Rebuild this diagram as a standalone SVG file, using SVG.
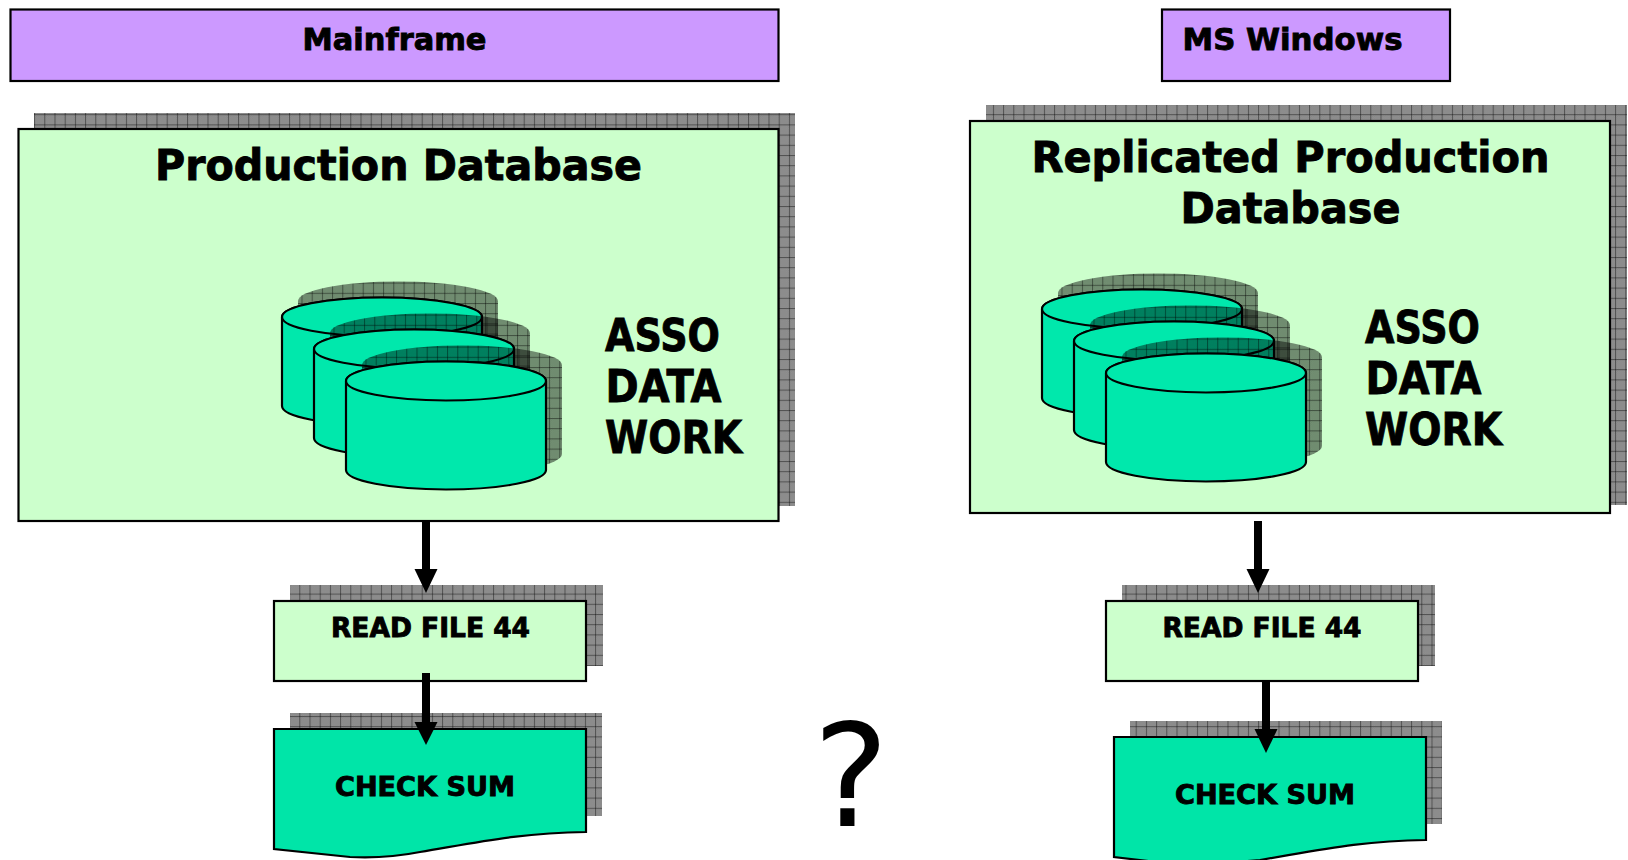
<svg xmlns="http://www.w3.org/2000/svg" width="1628" height="860" viewBox="0 0 1628 860">
<style>
text{font-family:"DejaVu Sans","Liberation Sans",sans-serif;font-weight:bold;fill:#000;stroke:#000;stroke-width:.9}
.box{stroke:#000;stroke-width:2.2}
.hdr{fill:#CC99FF}
.lt{fill:#CCFFCC}
.tl{fill:#00E5A8}
.sh{fill:url(#grid);stroke:none}
.cyl{fill:#00E8AC;stroke:#000;stroke-width:2.2}
.cap{fill:#00E8AC;stroke:#000;stroke-width:2.2}
.conn{stroke:#000;stroke-width:8;fill:none}
.head{fill:#000}
</style>
<defs>
<pattern id="fine" width="2" height="2" patternUnits="userSpaceOnUse">
<rect width="2" height="2" fill="#000" fill-opacity=".42"/>
<rect width="1" height="1" fill="#000" fill-opacity=".1"/>
<rect x="1" y="1" width="1" height="1" fill="#000" fill-opacity=".1"/>
</pattern>
<pattern id="grid" x="3.5" y="2" width="10.2" height="10.2" patternUnits="userSpaceOnUse">
<rect width="10.2" height="10.2" fill="url(#fine)"/>
<rect width="1" height="10.2" fill="#000" fill-opacity=".42"/>
<rect y="0" width="10.2" height="1" fill="#000" fill-opacity=".42"/>
</pattern>
<path id="cs" d="M0 0A100 19.5 0 0 1 200 0V89A100 19.5 0 0 1 0 89Z"/>
<g id="stack">
<use href="#cs" x="298" y="301" class="sh"/>
<use href="#cs" x="282" y="317" class="cyl"/>
<ellipse cx="382" cy="317" rx="100" ry="19.5" class="cap"/>
<use href="#cs" x="330" y="333" class="sh"/>
<use href="#cs" x="314" y="349" class="cyl"/>
<ellipse cx="414" cy="349" rx="100" ry="19.5" class="cap"/>
<use href="#cs" x="362" y="365" class="sh"/>
<use href="#cs" x="346" y="381" class="cyl"/>
<ellipse cx="446" cy="381" rx="100" ry="19.5" class="cap"/>
</g>
</defs>
<rect width="1628" height="860" fill="#fff"/>

<g id="header-mainframe">
<rect x="10.5" y="9.5" width="768" height="71.5" class="box hdr"/>
<text x="302.5" y="50" font-size="30" textLength="184" lengthAdjust="spacingAndGlyphs">Mainframe</text>
</g>
<g id="header-windows">
<rect x="1162" y="9.5" width="288" height="71.5" class="box hdr"/>
<text x="1182.5" y="50" font-size="30" textLength="220" lengthAdjust="spacingAndGlyphs">MS Windows</text>
</g>

<g id="production-db">
<rect x="34" y="113" width="761" height="393" class="sh"/>
<rect x="18.5" y="129" width="760" height="392" class="box lt"/>
<text x="155" y="180" font-size="42" textLength="487" lengthAdjust="spacingAndGlyphs">Production Database</text>
<use href="#stack"/>
<text x="605" y="351" font-size="44" textLength="115" lengthAdjust="spacingAndGlyphs">ASSO</text>
<text x="605.5" y="402" font-size="44" textLength="116" lengthAdjust="spacingAndGlyphs">DATA</text>
<text x="605" y="453" font-size="44" textLength="137" lengthAdjust="spacingAndGlyphs">WORK</text>
</g>

<g id="replicated-db">
<rect x="986" y="105" width="641" height="400" class="sh"/>
<rect x="970" y="121" width="640" height="392" class="box lt"/>
<text x="1031.5" y="172" font-size="42" textLength="518" lengthAdjust="spacingAndGlyphs">Replicated Production</text>
<text x="1180.5" y="223" font-size="42" textLength="220" lengthAdjust="spacingAndGlyphs">Database</text>
<use href="#stack" transform="translate(760,-8)"/>
<text x="1365" y="343" font-size="44" textLength="115" lengthAdjust="spacingAndGlyphs">ASSO</text>
<text x="1365.5" y="394" font-size="44" textLength="116" lengthAdjust="spacingAndGlyphs">DATA</text>
<text x="1365" y="445" font-size="44" textLength="137" lengthAdjust="spacingAndGlyphs">WORK</text>
</g>

<g id="read-left">
<rect x="290" y="585" width="313" height="81" class="sh"/>
<rect x="274" y="601" width="312" height="80" class="box lt"/>
<text x="331" y="637" font-size="26" textLength="199" lengthAdjust="spacingAndGlyphs">READ FILE 44</text>
</g>
<g id="check-left">
<rect x="290" y="713" width="312" height="103" class="sh"/>
<path d="M274 729H586V832C520 833 480 842 420 852C395 857 370 858 350 857L274 849Z" class="box tl"/>
<text x="335" y="796" font-size="26" textLength="180" lengthAdjust="spacingAndGlyphs">CHECK SUM</text>
</g>
<g id="read-right">
<rect x="1122" y="585" width="313" height="81" class="sh"/>
<rect x="1106" y="601" width="312" height="80" class="box lt"/>
<text x="1162.5" y="637" font-size="26" textLength="199" lengthAdjust="spacingAndGlyphs">READ FILE 44</text>
</g>
<g id="check-right">
<rect x="1130" y="721" width="312" height="103" class="sh"/>
<path d="M1114 737H1426V840C1360 841 1320 850 1260 860L1190 866L1114 857Z" class="box tl"/>
<text x="1175" y="804" font-size="26" textLength="180" lengthAdjust="spacingAndGlyphs">CHECK SUM</text>
</g>

<g id="connectors">
<path d="M426 521V570" class="conn"/><path d="M414.5 569H437.5L426 593Z" class="head"/>
<path d="M426 673V723" class="conn"/><path d="M414.5 722H437.5L426 745Z" class="head"/>
<path d="M1258 521V570" class="conn"/><path d="M1246.5 569H1269.5L1258 593Z" class="head"/>
<path d="M1266 681V730" class="conn"/><path d="M1254.5 729H1277.5L1266 753Z" class="head"/>
</g>

<text id="question" x="813" y="826" font-size="143" style="font-weight:normal;stroke:none">?</text>
</svg>
